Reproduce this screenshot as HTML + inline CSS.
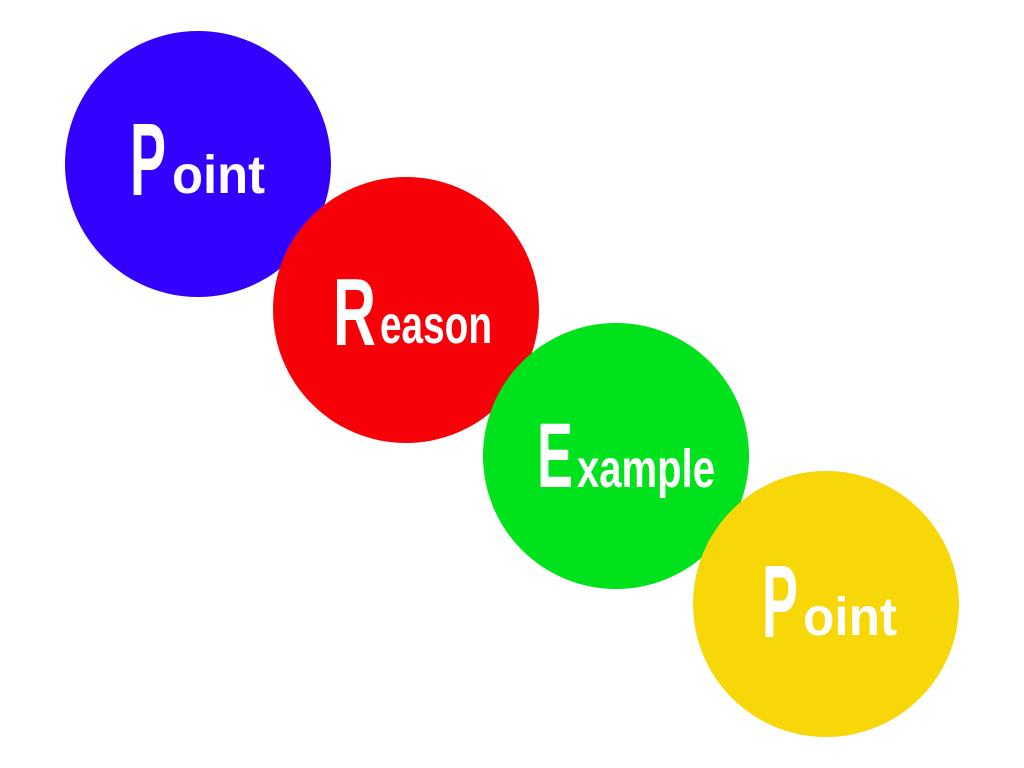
<!DOCTYPE html>
<html><head><meta charset="utf-8"><style>
html,body{margin:0;padding:0;background:#fff;width:1024px;height:768px;overflow:hidden}
svg{display:block}
text{font-family:"Liberation Sans",sans-serif;font-weight:bold;fill:#fff}
</style></head><body>
<svg width="1024" height="768" viewBox="0 0 1024 768">
<circle cx="198" cy="164" r="133" fill="#3300ff"/>
<circle cx="406" cy="310" r="133" fill="#f80008"/>
<circle cx="616" cy="456" r="133" fill="#00e31c"/>
<circle cx="826" cy="604" r="133" fill="#f7d708"/>

<text x="130" y="195" font-size="103" textLength="36" lengthAdjust="spacingAndGlyphs">P</text>
<text x="172" y="193" font-size="54" textLength="93" lengthAdjust="spacingAndGlyphs">oint</text>

<text x="333" y="345" font-size="96" textLength="43" lengthAdjust="spacingAndGlyphs">R</text>
<text x="380" y="343" font-size="54" textLength="112" lengthAdjust="spacingAndGlyphs">eason</text>

<text x="537" y="487" font-size="92" textLength="36" lengthAdjust="spacingAndGlyphs">E</text>
<text x="577" y="487" font-size="54" textLength="138" lengthAdjust="spacingAndGlyphs">xample</text>

<text x="762" y="637" font-size="103" textLength="36" lengthAdjust="spacingAndGlyphs">P</text>
<text x="803" y="635" font-size="54" textLength="94" lengthAdjust="spacingAndGlyphs">oint</text>
</svg>
</body></html>
